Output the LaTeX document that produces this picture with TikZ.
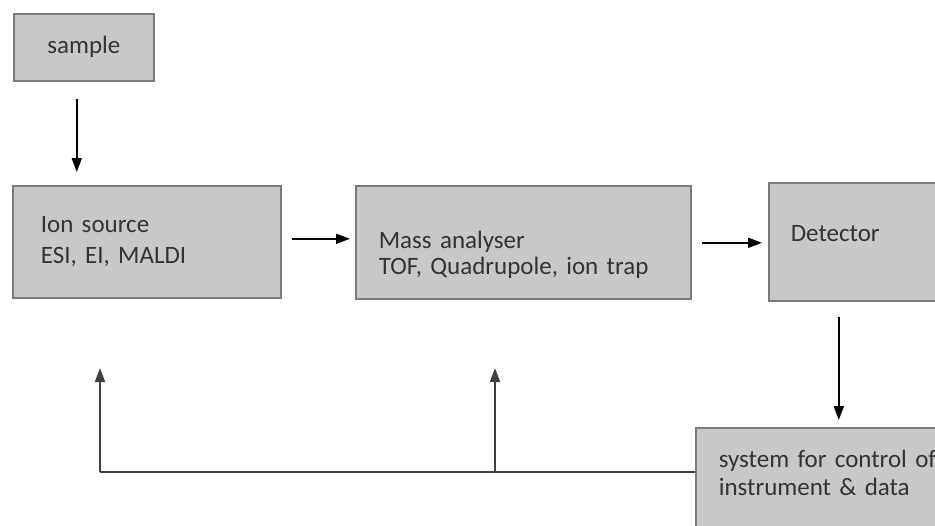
\documentclass[tikz,border=0pt]{standalone}
\usepackage{fontspec}
\setmainfont{Carlito}[WordSpace=0.8]
\usetikzlibrary{arrows.meta}
\definecolor{boxfill}{HTML}{C8C8C8}
\definecolor{boxline}{HTML}{7A7A7A}
\definecolor{txt}{HTML}{333333}
\begin{document}
\begin{tikzpicture}[x=0.5pt,y=-0.5pt,
    box/.style={draw=boxline,fill=boxfill,line width=0.8pt,anchor=north west,
      align=left,inner ysep=0pt,text=txt,
      font=\fontsize{12.5}{14}\selectfont},
    arr/.style={draw=black,line width=0.9pt,-{Triangle[length=7pt,width=5pt]}},
    feed/.style={draw=black!75,line width=1.1pt}]
  \useasboundingbox (0,0) rectangle (935,525);
  \clip (0,0) rectangle (935,525);
  % blocks
  \node[box,align=center,text width=60pt,inner xsep=5pt,minimum height=33.5pt]
    (sample) at (13,13) {sample};
  \node[box,text width=106pt,inner xsep=14pt,minimum height=56pt]
    (ion) at (12,185) {Ion source\\[1.5pt]ESI, EI, MALDI};
  \node[box,text width=144.5pt,inner xsep=11.5pt,minimum height=56.5pt]
    (mass) at (355,185) {\rule{0pt}{21pt}Mass analyser\\[-1pt]TOF, Quadrupole, ion trap};
  \node[box,text width=68pt,inner xsep=11pt,minimum height=59pt]
    (det) at (768,182) {Detector\rule[-8pt]{0pt}{8pt}};
  \node[box,text width=115pt,inner xsep=11.5pt,minimum height=55pt]
    (sys) at (695,427) {system for control of\\instrument \& data\rule[-10pt]{0pt}{10pt}};
  % feedback corners
  \coordinate (fb1) at (100,472);
  \coordinate (fb2) at (495,472);
  % arrows
  \draw[arr,shorten <=8.5pt,shorten >=6.5pt]
    ([xshift=-3.5pt]sample.south) -- ([xshift=-3.5pt]sample.south |- ion.north);
  \draw[arr,shorten <=5pt,shorten >=2.5pt]
    ([yshift=1.5pt]ion.east) -- ([yshift=1.5pt]ion.east -| mass.west);
  \draw[arr,shorten <=5pt,shorten >=3pt]
    ([yshift=-0.25pt]mass.east) -- ([yshift=-0.25pt]mass.east -| det.west);
  \draw[arr,shorten <=7.5pt,shorten >=3.5pt]
    ([xshift=-10pt]det.south) -- ([xshift=-10pt]det.south |- sys.north);
  \draw[feed] (sys.west |- fb1) -- (fb1);
  \draw[feed,arr,draw=black!75] (fb1) -- ++(0,-104);
  \draw[feed,arr,draw=black!75] (fb2) -- ++(0,-104);
\end{tikzpicture}
\end{document}
